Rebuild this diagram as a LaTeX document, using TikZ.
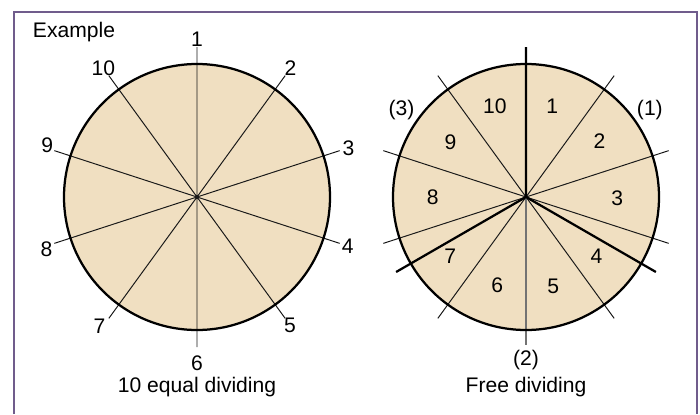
\documentclass[tikz,border=0pt]{standalone}
\usepackage{fontspec}
\setmainfont{Liberation Sans}
\definecolor{wheat}{RGB}{240,223,193}
\definecolor{framecol}{RGB}{112,92,140}
\begin{document}
\begin{tikzpicture}[font=\fontsize{15}{17}\selectfont,
  spoke/.style={black!90,line width=0.7pt},
  cut/.style={black,line width=1.6pt},
  rim/.style={black,line width=1.6pt}]
  \useasboundingbox (0,0) rectangle (17.5,10.35);
  \draw[framecol,line width=0.9pt] (0.35,0) -- (0.35,10.05) -- (17.425,10.05) -- (17.425,0);
  \node[anchor=west] (title) at (0.7,9.55) {Example};
  % 10 equal dividing
  \begin{scope}[shift={(4.925,5.425)}]
    \coordinate (L) at (0,0);
    \fill[wheat] (L) circle (3.325);
    \draw[spoke] (L) -- (90:3.75) (L) -- (54:3.75) (L) -- (18:3.75) (L) -- (-18:3.75)
      (L) -- (-54:3.75) (L) -- (-90:3.75) (L) -- (-126:3.75) (L) -- (-162:3.75)
      (L) -- (162:3.75) (L) -- (126:3.75);
    \draw[rim] (L) circle (3.325);
    \node (e1) at (90:3.95) {1};
    \node (e2) at (54:3.98) {2};
    \node (e3) at (18:3.98) {3};
    \node (e4) at (-18:3.96) {4};
    \node (e5) at (-54:3.96) {5};
    \node (e6) at (-90:4.15) {6};
    \node (e7) at (-127:4.05) {7};
    \node (e8) at (-161:3.98) {8};
    \node (e9) at (161:3.96) {9};
    \node (e10) at (126:3.98) {10};
    \node (capL) at (0,-4.75) {10 equal dividing};
  \end{scope}
  % Free dividing
  \begin{scope}[shift={(13.15,5.425)}]
    \coordinate (R) at (0,0);
    \fill[wheat] (R) circle (3.325);
    \draw[spoke] (R) -- (54:3.75) (R) -- (18:3.75) (R) -- (-18:3.75) (R) -- (-54:3.75)
      (R) -- (-126:3.75) (R) -- (-162:3.75) (R) -- (162:3.75) (R) -- (126:3.75);
    \draw[black!55,line width=1pt] (R) -- (-90:3.7);
    \draw[cut] (R) -- (90:3.75) (R) -- (-30:3.75) (R) -- (-150:3.75);
    \draw[rim] (R) circle (3.325);
    \node (f1) at (74:2.37) {1};
    \node (f2) at (37:2.3) {2};
    \node (f3) at (-1:2.28) {3};
    \node (f4) at (-40:2.3) {4};
    \node (f5) at (-73:2.33) {5};
    \node (f6) at (-108:2.33) {6};
    \node (f7) at (-142:2.4) {7};
    \node (f8) at (180:2.33) {8};
    \node (f9) at (144:2.33) {9};
    \node (f10) at (109:2.4) {10};
    \node (p1) at (35:3.78) {(1)};
    \node (p2) at (-90:4.08) {(2)};
    \node (p3) at (145:3.8) {(3)};
    \node (capR) at (0,-4.75) {Free dividing};
  \end{scope}
\end{tikzpicture}
\end{document}
